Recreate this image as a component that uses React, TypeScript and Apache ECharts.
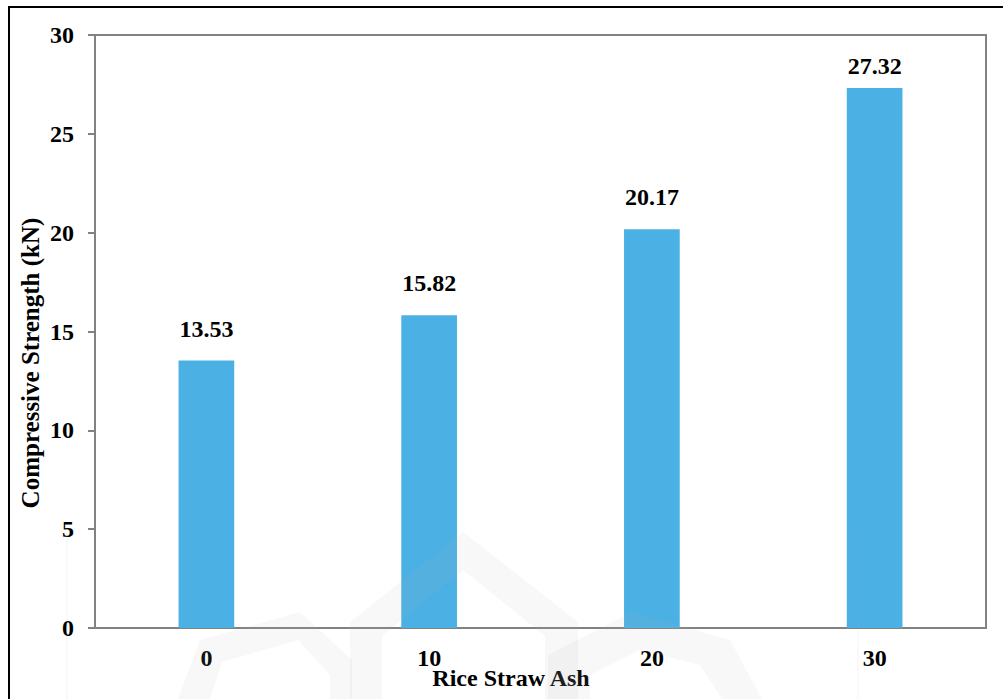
import React, { useEffect, useRef } from "react";
import * as echarts from "echarts";

// Rice straw ash content and the measured compressive strength
const ashContent = ["0", "10", "20", "30"];
const strength = [13.53, 15.82, 20.17, 27.32];
const yTicks = { min: 0, max: 30, step: 5 };

const SERIF = "'Liberation Serif', 'Times New Roman', serif";
const AXIS_GREY = "#828282";
const BAR_BLUE = "#4bb0e3";

// faint background emblem
const markFill = "rgba(180,180,180,0.09)";
const emblem = [
  [[350, 699], [350, 622], [463, 532], [578, 622], [578, 699], [545, 699], [545, 636], [463, 570], [382, 636], [382, 699]],
  [[178, 699], [200, 640], [300, 612], [352, 660], [352, 699], [330, 699], [330, 675], [298, 640], [222, 662], [210, 699]],
  [[548, 699], [548, 655], [632, 612], [730, 640], [762, 699], [722, 699], [700, 665], [640, 650], [590, 675], [590, 699]],
];

export default function App() {
  const ref = useRef<HTMLDivElement>(null);

  useEffect(() => {
    if (!ref.current) return;
    const chart = echarts.init(ref.current, null, { renderer: "svg" });

    const barData = strength.map((v, i) =>
      i === strength.length - 1 ? { value: v, label: { distance: 10 } } : v
    );

    chart.setOption({
      animation: false,
      backgroundColor: "#ffffff",
      grid: {
        left: 95,
        top: 35,
        right: 17,
        bottom: 71,
        outerBoundsMode: "none",
        containLabel: false,
        show: true,
        borderColor: AXIS_GREY,
        borderWidth: 2,
        backgroundColor: "transparent",
      },
      xAxis: {
        type: "category",
        data: ashContent,
        boundaryGap: true,
        name: "Rice Straw Ash",
        nameLocation: "middle",
        nameGap: 38,
        nameMoveOverlap: false,
        nameTextStyle: {
          fontFamily: SERIF,
          fontWeight: "bold",
          fontSize: 24,
          color: "#000",
          padding: [0, 59, 0, 0],
        },
        axisLine: { show: true, lineStyle: { color: AXIS_GREY, width: 2 } },
        axisTick: { show: false },
        axisLabel: {
          fontFamily: SERIF,
          fontWeight: "bold",
          fontSize: 24,
          color: "#000",
          margin: 18,
        },
        splitLine: { show: false },
      },
      yAxis: {
        type: "value",
        min: yTicks.min,
        max: yTicks.max,
        interval: yTicks.step,
        name: "Compressive Strength (kN)",
        nameLocation: "middle",
        nameRotate: 90,
        nameGap: 52,
        nameMoveOverlap: false,
        nameTextStyle: {
          fontFamily: SERIF,
          fontWeight: "bold",
          fontSize: 25,
          color: "#000",
          padding: [0, 63, 0, 0],
        },
        axisLine: { show: true, lineStyle: { color: AXIS_GREY, width: 2 } },
        axisTick: { show: true, length: 7, lineStyle: { color: AXIS_GREY, width: 2 } },
        axisLabel: {
          fontFamily: SERIF,
          fontWeight: "bold",
          fontSize: 24,
          color: "#000",
          margin: 21,
        },
        splitLine: { show: false },
      },
      series: [
        {
          type: "bar",
          data: barData,
          barWidth: "25%",
          itemStyle: { color: BAR_BLUE },
          label: {
            show: true,
            position: "top",
            distance: 20,
            fontFamily: SERIF,
            fontWeight: "bold",
            fontSize: 24,
            color: "#000",
            formatter: (p: any) => Number(p.value).toFixed(2),
          },
        },
      ],
      graphic: [
        ...emblem.map((pts) => ({
          type: "polygon",
          silent: true,
          z: 100,
          shape: { points: pts },
          style: { fill: markFill },
        })),
        {
          type: "line",
          silent: true,
          z: 100,
          shape: { x1: 858, y1: 530, x2: 858, y2: 699 },
          style: { stroke: "rgba(180,180,180,0.15)", lineWidth: 1 },
        },
        {
          type: "line",
          silent: true,
          z: 100,
          shape: { x1: 67, y1: 533, x2: 67, y2: 699 },
          style: { stroke: "rgba(180,180,180,0.15)", lineWidth: 1 },
        },
        {
          type: "rect",
          silent: true,
          z: 101,
          shape: { x: 9, y: 7, width: 1100, height: 800 },
          style: { fill: "none", stroke: "#000", lineWidth: 2 },
        },
      ],
    });

    return () => chart.dispose();
  }, []);

  return (
    <div
      ref={ref}
      style={{ position: "absolute", left: 0, top: 0, width: 1003, height: 699 }}
    />
  );
}
